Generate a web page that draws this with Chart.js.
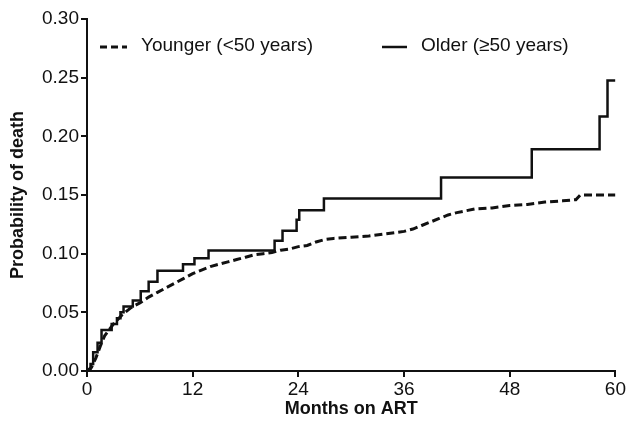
<!DOCTYPE html>
<html>
<head>
<meta charset="utf-8">
<script src="https://cdn.jsdelivr.net/npm/chart.js@4"></script>
<style>
  html, body { margin: 0; padding: 0; background: #fff; }
  #wrap { width: 627px; height: 427px; }
</style>
</head>
<body>
<div id="wrap"><canvas id="grafico" width="627" height="427"></canvas></div>
<script>
// Datos (meses en TAR / probabilidad acumulada de muerte)
const jovenesMeses = [0, 0.5, 1, 1.5, 2, 2.5, 3, 4, 5, 6, 7, 8, 9, 10, 11, 12, 13, 14, 15, 16, 17, 18, 19, 20, 21, 22, 23, 24, 25, 26, 27, 28, 30, 32, 34, 36, 37, 38, 39, 40, 41, 42, 44, 46, 48, 50, 51, 52, 54, 55.5, 56, 60];
const jovenesProb = [0, 0.003, 0.011, 0.021, 0.030, 0.035, 0.040, 0.048, 0.054, 0.058, 0.063, 0.067, 0.071, 0.075, 0.079, 0.083, 0.086, 0.089, 0.091, 0.093, 0.095, 0.097, 0.099, 0.100, 0.101, 0.103, 0.104, 0.106, 0.107, 0.110, 0.112, 0.113, 0.114, 0.115, 0.117, 0.119, 0.121, 0.124, 0.127, 0.130, 0.133, 0.135, 0.138, 0.139, 0.141, 0.142, 0.143, 0.144, 0.145, 0.146, 0.150, 0.150];

const mayoresMeses = [0, 0.4, 0.7, 1.2, 1.65, 2.8, 3.4, 3.8, 4.15, 5.2, 6.1, 7.0, 8.0, 10.9, 12.2, 13.8, 21.3, 22.2, 23.8, 24.1, 26.9, 40.2, 50.5, 58.2, 59.1, 60];
const mayoresProb = [0, 0.006, 0.016, 0.024, 0.035, 0.040, 0.045, 0.050, 0.055, 0.060, 0.068, 0.076, 0.0855, 0.091, 0.096, 0.1026, 0.111, 0.1196, 0.129, 0.137, 0.147, 0.165, 0.189, 0.217, 0.2475, 0.2475];

const etiquetas = ['Younger (<50 years)', 'Older (\u226550 years)'];
const ticksX = [0, 12, 24, 36, 48, 60];
const ticksY = [0, 0.05, 0.10, 0.15, 0.20, 0.25, 0.30];

const fuente = '"Liberation Sans", Arial, Helvetica, sans-serif';
const negro = '#111';

// Leyenda dentro del área del gráfico
const leyendaInterna = {
    id: 'leyendaInterna',
    afterDatasetsDraw(chart) {
        const ctx = chart.ctx;
        ctx.save();
        ctx.strokeStyle = negro;
        ctx.fillStyle = negro;
        ctx.font = '19px ' + fuente;
        ctx.textBaseline = 'middle';

        ctx.lineWidth = 3;
        ctx.setLineDash([7, 4]);
        ctx.beginPath();
        ctx.moveTo(100, 47);
        ctx.lineTo(127, 47);
        ctx.stroke();
        ctx.setLineDash([]);
        ctx.fillText(etiquetas[0], 141, 46);

        ctx.lineWidth = 2.5;
        ctx.beginPath();
        ctx.moveTo(382, 47);
        ctx.lineTo(407, 47);
        ctx.stroke();
        ctx.fillText(etiquetas[1], 421, 46);
        ctx.restore();
    }
};

new Chart(document.getElementById('grafico'), {
    type: 'line',
    data: {
        datasets: [{
            label: etiquetas[0],
            data: jovenesMeses.map((m, i) => ({ x: m, y: jovenesProb[i] })),
            borderColor: negro,
            borderWidth: 3,
            borderDash: [8, 4],
            pointRadius: 0,
            tension: 0,
            fill: false
        }, {
            label: etiquetas[1],
            data: mayoresMeses.map((m, i) => ({ x: m, y: mayoresProb[i] })),
            borderColor: negro,
            borderWidth: 2.5,
            stepped: 'before',
            pointRadius: 0,
            fill: false
        }]
    },
    options: {
        responsive: false,
        animation: false,
        layout: { padding: { left: 3, right: 10, top: 19, bottom: 3 } },
        plugins: {
            legend: { display: false },
            tooltip: { enabled: false }
        },
        scales: {
            x: {
                type: 'linear',
                min: 0,
                max: 60,
                afterBuildTicks: s => { s.ticks = ticksX.map(v => ({ value: v })); },
                afterFit: s => { s.height = 53; },
                grid: { drawOnChartArea: false, drawTicks: true, tickLength: 6, color: negro, lineWidth: 2 },
                border: { color: negro, width: 2 },
                ticks: { color: negro, font: { family: fuente, size: 19 }, padding: 1, maxRotation: 0 },
                title: { display: true, text: 'Months on ART', color: negro, font: { family: fuente, size: 18, weight: 'bold' } }
            },
            y: {
                min: 0,
                max: 0.30,
                afterBuildTicks: s => { s.ticks = ticksY.map(v => ({ value: v })); },
                afterFit: s => { s.width = 84; },
                grid: { drawOnChartArea: false, drawTicks: true, tickLength: 6, color: negro, lineWidth: 2 },
                border: { color: negro, width: 2 },
                ticks: { color: negro, font: { family: fuente, size: 19 }, padding: 2, callback: v => v.toFixed(2) },
                title: { display: true, text: 'Probability of death', color: negro, font: { family: fuente, size: 18, weight: 'bold' } }
            }
        }
    },
    plugins: [leyendaInterna]
});
</script>
</body>
</html>
